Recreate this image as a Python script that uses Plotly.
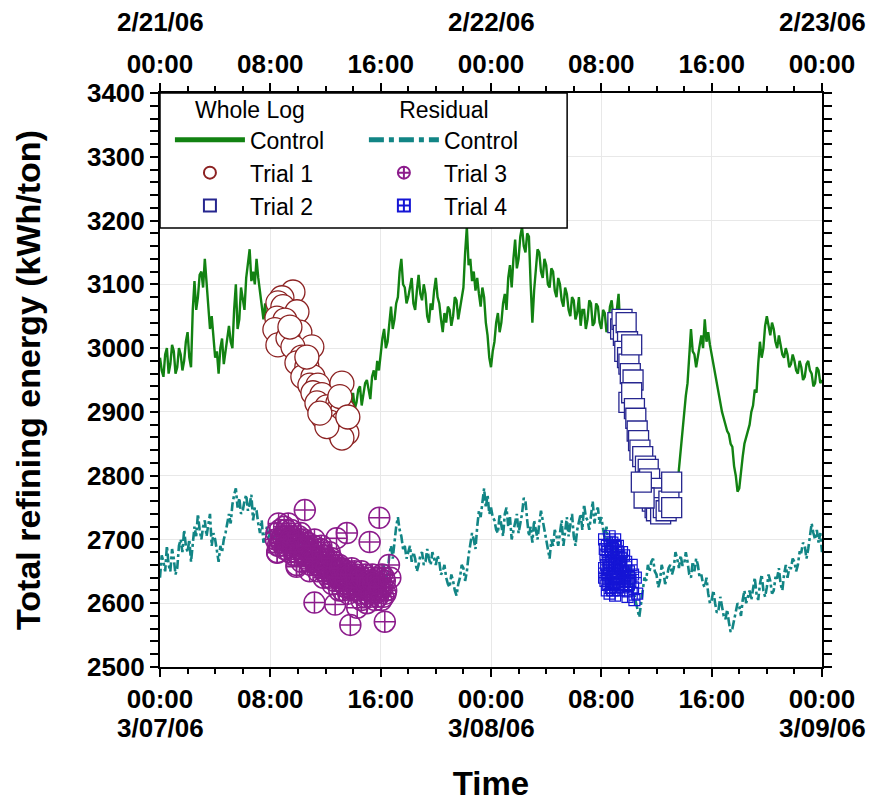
import plotly.graph_objects as go

# ---------------- data ----------------
STEP_H = 0.125  # sampling interval of the control logs (hours)

whole_log_control = [
    2985, 2965, 2955, 2990, 3000, 2960, 2975, 3005,
    2995, 2960, 2970, 3000, 2990, 2965, 2980, 3010,
    3025, 2985, 2970, 3060, 3105, 3060, 3080, 3115,
    3120, 3095, 3140, 3100, 3070, 3030, 3050, 3010,
    2985, 2995, 2960, 3000, 3015, 2975, 2995, 3020,
    3035, 3010, 3000, 3060, 3100, 3030, 3045, 3095,
    3080, 3060, 3110, 3130, 3155, 3105, 3120, 3100,
    3140, 3110, 3085, 3060, 3045, 3070, 3030, 3015,
    3055, 3035, 3010, 3050, 3035, 3010, 3050, 3030,
    3020, 3005, 3040, 3015, 3005, 3030, 3025, 2995,
    2990, 3015, 3000, 2970, 2975, 2990, 2960, 2980,
    2970, 2950, 2945, 2965, 2950, 2930, 2925, 2945,
    2935, 2915, 2905, 2925, 2915, 2895, 2890, 2910,
    2900, 2880, 2875, 2895, 2905, 2880, 2850, 2895,
    2930, 2905, 2915, 2935, 2940, 2910, 2925, 2945,
    2950, 2935, 2920, 2955, 2965, 2950, 2980, 2965,
    2995, 3015, 3030, 3000, 3010, 3045, 3065, 3030,
    3045, 3070, 3080, 3120, 3140, 3100, 3095, 3070,
    3080, 3095, 3110, 3070, 3060, 3090, 3115, 3085,
    3075, 3100, 3085, 3050, 3040, 3070, 3060, 3090,
    3110, 3080, 3070, 3045, 3025, 3055, 3040, 3065,
    3060, 3035, 3050, 3080, 3075, 3045, 3060, 3080,
    3095, 3150, 3190, 3130, 3140, 3105, 3120, 3090,
    3110, 3085, 3065, 3095, 3080, 3040, 3020, 2985,
    2970, 2995, 3010, 3040, 3055, 3025, 3040, 3070,
    3085, 3060, 3110, 3130, 3095, 3140, 3170, 3125,
    3140, 3175, 3190, 3160, 3150, 3180, 3175, 3100,
    3040, 3090, 3120, 3155, 3150, 3120, 3110, 3140,
    3130, 3100, 3095, 3125, 3120, 3090, 3080, 3110,
    3100, 3075, 3065, 3095, 3085, 3060, 3050, 3080,
    3075, 3045, 3055, 3080, 3035, 3060, 3060, 3030,
    3045, 3075, 3070, 3035, 3040, 3070, 3065, 3040,
    3030, 3060, 3055, 3025, 3035, 3065, 3075, 3040,
    3020, 3060, 3085, 3030, 3010, 3000, 2990, 3005,
    3000, 2975, 2960, 2945, 2930, 2910, 2895, 2880,
    2870, 2855, 2840, 2825, 2815, 2805, 2795, 2785,
    2780, 2770, 2765, 2755, 2750, 2758, 2760, 2750,
    2745, 2770, 2790, 2760, 2770, 2810, 2840, 2870,
    2900, 2925, 2945, 2990, 3030, 2995, 2990, 2970,
    2985, 3005, 3020, 3000, 3045, 3010, 3025, 3005,
    2990, 2970, 2955, 2945, 2930, 2915, 2900, 2890,
    2880, 2870, 2865, 2850, 2845, 2815, 2800, 2775,
    2780, 2810, 2830, 2850, 2860, 2870, 2880, 2900,
    2910, 2935, 2930, 2975, 3010, 2985, 3000, 3035,
    3050, 3035, 3020, 3040, 3030, 3010, 3000, 3020,
    3005, 2990, 2985, 3000, 2990, 2970, 2975, 2990,
    2980, 2965, 2960, 2980, 2970, 2950, 2955, 2975,
    2980, 2965, 2960, 2940, 2945, 2970, 2965, 2945,
    2950,
]

residual_control = [
    2640, 2675, 2665, 2650, 2690, 2660, 2650, 2685,
    2670, 2645, 2655, 2690, 2700, 2680, 2715, 2690,
    2680, 2700, 2665, 2700, 2720, 2705, 2740, 2715,
    2700, 2720, 2730, 2705, 2720, 2740, 2690, 2710,
    2700, 2680, 2665, 2690, 2680, 2700, 2710, 2725,
    2740, 2725, 2755, 2770, 2780, 2750, 2765, 2740,
    2745, 2760, 2770, 2745, 2755, 2770, 2730, 2750,
    2745, 2725, 2710, 2730, 2695, 2705, 2720, 2700,
    2715, 2705, 2700, 2715, 2720, 2705, 2695, 2710,
    2710, 2700, 2690, 2700, 2705, 2690, 2685, 2695,
    2700, 2690, 2680, 2695, 2690, 2675, 2670, 2680,
    2685, 2675, 2665, 2680, 2675, 2660, 2655, 2665,
    2670, 2660, 2650, 2665, 2660, 2650, 2645, 2650,
    2655, 2645, 2640, 2650, 2650, 2640, 2635, 2645,
    2645, 2635, 2630, 2640, 2640, 2630, 2625, 2635,
    2640, 2625, 2630, 2640, 2645, 2630, 2625, 2635,
    2640, 2650, 2660, 2640, 2645, 2675, 2690, 2670,
    2700, 2720, 2735, 2715, 2705, 2685, 2690, 2670,
    2680, 2690, 2665, 2680, 2670, 2650, 2660, 2675,
    2680, 2660, 2665, 2685, 2670, 2660, 2680, 2670,
    2660, 2675, 2665, 2645, 2650, 2660, 2640, 2630,
    2625, 2645, 2635, 2620, 2612, 2630, 2640, 2660,
    2655, 2635, 2650, 2675, 2690, 2710, 2700, 2685,
    2720, 2745, 2735, 2760, 2780, 2750, 2770, 2740,
    2750, 2735, 2730, 2715, 2710, 2740, 2725, 2705,
    2740, 2750, 2720, 2735, 2700, 2715, 2725, 2740,
    2710, 2725, 2740, 2765, 2760, 2730, 2705, 2720,
    2695, 2730, 2715, 2700, 2725, 2745, 2730, 2715,
    2700, 2685, 2670, 2700, 2690, 2715, 2705, 2690,
    2715, 2730, 2690, 2710, 2735, 2705, 2720, 2740,
    2705, 2690, 2715, 2730, 2740, 2715, 2755, 2735,
    2730, 2715, 2740, 2760, 2725, 2745, 2750, 2725,
    2735, 2715, 2700, 2720, 2690, 2705, 2675, 2690,
    2665, 2690, 2680, 2660, 2655, 2675, 2670, 2650,
    2645, 2660, 2630, 2615, 2600, 2590, 2578, 2600,
    2620, 2640, 2635, 2660, 2650, 2665, 2670, 2650,
    2645, 2625, 2635, 2660, 2650, 2630, 2640, 2655,
    2660, 2645, 2655, 2680, 2670, 2655, 2675, 2660,
    2660, 2680, 2665, 2645, 2640, 2665, 2650, 2670,
    2660, 2640, 2645, 2630, 2625, 2640, 2615, 2600,
    2605, 2620, 2600, 2585, 2590, 2610, 2595, 2580,
    2575, 2590, 2570, 2555, 2560, 2575, 2585, 2600,
    2595, 2580, 2605, 2620, 2600, 2610, 2620, 2605,
    2625, 2640, 2615, 2605, 2630, 2645, 2620, 2610,
    2625, 2645, 2635, 2615, 2620, 2640, 2640, 2655,
    2630, 2620, 2645, 2660, 2640, 2655, 2655, 2670,
    2665, 2650, 2660, 2680, 2680, 2695, 2690, 2670,
    2685, 2705, 2725, 2710, 2700, 2715, 2695, 2710,
    2680,
]

control_hours = [i * STEP_H for i in range(len(whole_log_control))]

trial1_hours = [9.64, 8.84, 8.55, 8.91, 9.93, 8.48, 9.06, 8.33, 10.14, 8.55,
                9.28, 11.01, 9.64, 10.29, 9.93, 10.65, 10.36, 11.09, 10.87, 11.45,
                13.19, 11.09, 11.74, 11.38, 12.10, 12.90, 11.81, 12.68, 13.26, 12.32,
                13.26, 12.83, 13.55, 13.19, 12.10, 11.59, 13.04, 13.62, 10.65, 9.42]
trial1_values = [3088, 3079, 3071, 3065, 3057, 3047, 3044, 3029, 3025, 3005,
                 3016, 3002, 3002, 2986, 2977, 2971, 2955, 2955, 2942, 2942,
                 2945, 2930, 2927, 2914, 2908, 2914, 2892, 2898, 2903, 2884,
                 2883, 2872, 2867, 2859, 2877, 2898, 2924, 2892, 2986, 3033]

trial2_hours = [33.2, 33.4, 33.5, 33.6, 33.8, 33.9, 33.7, 33.9, 34.0, 34.2,
                34.1, 34.3, 34.0, 34.2, 34.4, 34.5, 34.6, 34.7, 34.8, 35.0,
                35.2, 35.4, 35.3, 35.5, 35.6, 35.7, 35.8, 35.9, 36.0, 36.1,
                36.3, 36.5, 36.7, 36.9, 37.1, 37.1, 35.1, 34.9]
trial2_values = [3040, 3030, 3045, 3020, 3040, 3010, 2995, 2985, 2975, 3005,
                 2960, 2950, 2915, 2930, 2905, 2890, 2870, 2855, 2840, 2830,
                 2815, 2810, 2790, 2795, 2775, 2760, 2780, 2750, 2745, 2765,
                 2740, 2750, 2745, 2760, 2790, 2750, 2765, 2790]

trial3_hours = [8.4, 8.5, 8.7, 8.8, 9.0, 9.1, 9.2, 9.4, 9.5, 9.6, 9.8, 9.9, 10.0,
                10.2, 10.3, 10.4, 10.6, 10.7, 10.8, 11.0, 11.1, 11.2, 11.4, 11.5,
                11.6, 11.8, 11.9, 12.0, 12.2, 12.3, 12.4, 12.6, 12.7, 12.8, 13.0,
                13.1, 13.2, 13.4, 13.5, 13.6, 13.8, 13.9, 14.0, 14.2, 14.3, 14.4,
                14.6, 14.7, 14.8, 15.0, 15.1, 15.2, 15.4, 15.5, 15.6, 15.8, 15.9,
                16.0, 16.2, 16.3,
                8.6, 8.9, 9.3, 9.7, 10.1, 10.5, 10.9, 11.3, 11.7, 12.1, 12.5, 12.9,
                13.3, 13.7, 14.1, 14.5, 14.9, 15.3, 15.7, 16.1, 16.4, 12.5, 13.0,
                14.6, 15.0, 15.6,
                8.45, 8.65, 8.95, 9.15, 9.35, 9.55, 9.75, 9.95, 10.15, 10.35, 10.55,
                10.75, 10.95, 11.15, 11.35, 11.55, 11.75, 11.95, 12.15, 12.35, 12.55,
                12.75, 12.95, 13.15, 13.35, 13.55, 13.75, 13.95, 14.15, 14.35, 14.55,
                14.75, 14.95, 15.15, 15.35, 15.55, 15.75, 15.95, 16.15, 16.35,
                8.55, 8.75, 9.05, 9.25, 9.45, 9.65, 9.85, 10.05, 10.25, 10.45, 10.65,
                10.85, 11.05, 11.25, 11.45, 11.65, 11.85, 12.05, 12.25, 12.45, 12.65,
                12.85, 13.05, 13.25, 13.45, 13.65, 13.85, 14.05, 14.25, 14.45, 14.65,
                14.85, 15.05, 15.25, 15.45, 15.65, 15.85, 16.05, 16.25,
                10.5, 15.9, 13.55, 15.2, 11.2, 12.7, 13.8, 16.3, 14.3, 9.9, 8.5,
                12.8, 16.7, 16.6]
trial3_values = [2700, 2680, 2715, 2695, 2720, 2690, 2705, 2680, 2715, 2695, 2700,
                 2660, 2690, 2710, 2680, 2700, 2675, 2695, 2665, 2685, 2670, 2700,
                 2660, 2680, 2665, 2675, 2650, 2670, 2655, 2680, 2645, 2665, 2650,
                 2640, 2660, 2635, 2655, 2645, 2625, 2650, 2635, 2655, 2630, 2645,
                 2620, 2640, 2650, 2625, 2635, 2615, 2640, 2625, 2645, 2620, 2635,
                 2610, 2640, 2625, 2610, 2635,
                 2725, 2705, 2725, 2685, 2700, 2690, 2680, 2675, 2690, 2660, 2660,
                 2650, 2640, 2640, 2650, 2630, 2645, 2630, 2625, 2645, 2620, 2630,
                 2620, 2605, 2600, 2605,
                 2710, 2690, 2700, 2715, 2695, 2705, 2675, 2695, 2685, 2690, 2670,
                 2685, 2660, 2690, 2665, 2670, 2655, 2660, 2670, 2650, 2655, 2660,
                 2640, 2650, 2630, 2645, 2625, 2640, 2640, 2635, 2615, 2630, 2625,
                 2635, 2615, 2630, 2640, 2620, 2625, 2615,
                 2690, 2700, 2685, 2695, 2700, 2690, 2680, 2705, 2665, 2675, 2690,
                 2650, 2670, 2665, 2650, 2685, 2640, 2655, 2640, 2670, 2635, 2640,
                 2655, 2620, 2640, 2615, 2645, 2620, 2635, 2625, 2640, 2610, 2635,
                 2610, 2630, 2615, 2625, 2605, 2640,
                 2746, 2734, 2710, 2696, 2601, 2598, 2566, 2571, 2593, 2657, 2679,
                 2702, 2640, 2660]

trial4_hours = [32.2, 32.4, 32.6, 32.8, 33.0, 33.2, 32.3, 32.5, 32.7, 32.9, 33.1,
                33.3, 33.5, 32.2, 32.4, 32.6, 32.8, 33.0, 33.2, 33.4, 33.6, 33.8,
                32.3, 32.5, 32.7, 32.9, 33.1, 33.3, 33.5, 33.7, 34.0, 34.2, 34.1,
                34.3, 33.9, 34.5, 34.6, 32.6, 32.8, 33.0, 34.4,
                32.25, 32.45, 32.65, 32.85, 33.05, 33.25, 33.45, 33.65, 32.35, 32.55,
                32.75, 32.95, 33.15, 33.35, 33.55, 33.75, 32.2, 32.5, 32.8, 33.1,
                33.4, 33.7, 34.0, 34.3, 32.4, 32.7, 33.0, 33.3, 33.6, 33.9]
trial4_values = [2700, 2690, 2705, 2695, 2700, 2690, 2675, 2665, 2680, 2670, 2675,
                 2665, 2680, 2655, 2645, 2660, 2650, 2655, 2645, 2660, 2650, 2665,
                 2635, 2630, 2640, 2632, 2638, 2630, 2640, 2635, 2650, 2660, 2635,
                 2625, 2620, 2640, 2615, 2615, 2620, 2612, 2605,
                 2685, 2680, 2690, 2685, 2688, 2680, 2670, 2675, 2660, 2655,
                 2665, 2660, 2662, 2655, 2650, 2645, 2640, 2645, 2638, 2642,
                 2640, 2640, 2630, 2645, 2620, 2625, 2625, 2620, 2625, 2610]

tick_hours = [0, 8, 16, 24, 32, 40, 48]
tick_labels = ["00:00", "08:00", "16:00", "00:00", "08:00", "16:00", "00:00"]
top_dates = ["2/21/06", "2/22/06", "2/23/06"]
bottom_dates = ["3/07/06", "3/08/06", "3/09/06"]
date_hours = [0, 24, 48]

# ---------------- style ----------------
FONT = "Liberation Sans, Arial, Helvetica, sans-serif"
GREEN = "#128212"
TEAL = "#128585"
RED = "#8c2222"
PURPLE = "#8c1c8c"
NAVY = "#26268f"
BLUE = "#1515d5"

fig = go.Figure()

# control logs: base axis (drawn first, underneath)
fig.add_trace(go.Scatter(x=control_hours, y=whole_log_control, xaxis="x", mode="lines",
                         line=dict(color=GREEN, width=2.4), name="Control", legend="legend"))
fig.add_trace(go.Scatter(x=control_hours, y=residual_control, xaxis="x", mode="lines",
                         line=dict(color=TEAL, width=2.6, dash="dashdot"), name="Control",
                         legend="legend2"))
# trials: overlay axis (drawn on top)
fig.add_trace(go.Scatter(x=trial1_hours, y=trial1_values, xaxis="x2", mode="markers",
                         name="Trial 1",
                         marker=dict(symbol="circle", size=24, color="white",
                                     line=dict(width=1.3, color=RED)),
                         legend="legend"))
fig.add_trace(go.Scatter(x=trial2_hours, y=trial2_values, xaxis="x2", mode="markers",
                         name="Trial 2",
                         marker=dict(symbol="square", size=20, color="white",
                                     line=dict(width=1.3, color=NAVY)),
                         legend="legend"))
fig.add_trace(go.Scatter(x=trial3_hours, y=trial3_values, xaxis="x2", mode="markers",
                         name="Trial 3",
                         marker=dict(symbol="circle-cross-open", size=21, color=PURPLE,
                                     line=dict(width=1.5)),
                         legend="legend2"))
fig.add_trace(go.Scatter(x=trial4_hours, y=trial4_values, xaxis="x2", mode="markers",
                         name="Trial 4",
                         marker=dict(symbol="square-cross-open", size=11, color=BLUE,
                                     line=dict(width=1.2)),
                         legend="legend2"))

tickfont = dict(family=FONT, size=26, color="black", weight="bold")
xcommon = dict(range=[0, 48], tickvals=tick_hours, ticktext=tick_labels, showgrid=True,
               gridcolor="#e8e8e8", gridwidth=1, showline=True, linecolor="black", linewidth=2,
               ticks="outside", ticklen=8, tickwidth=2, tickcolor="black", tickfont=tickfont,
               minor=dict(dtick=2, ticks="outside", ticklen=5, tickwidth=1.5, tickcolor="black",
                          showgrid=False),
               zeroline=False, fixedrange=True, automargin=False)

fig.update_layout(
    width=862, height=794,
    margin=dict(l=152, r=48, t=85, b=135),
    paper_bgcolor="white", plot_bgcolor="white",
    font=dict(family=FONT, color="black"),
    xaxis=dict(**xcommon, side="bottom",
               title=dict(text="Time", font=dict(family=FONT, size=33, weight="bold"),
                          standoff=64)),
    xaxis2=dict(**xcommon, side="top", overlaying="x", anchor="y"),
    yaxis=dict(range=[2500, 3400], dtick=100, showgrid=True, gridcolor="#e8e8e8",
               showline=True, linecolor="black", linewidth=2, mirror="allticks",
               ticks="outside", ticklen=8, tickwidth=2, tickcolor="black", tickfont=tickfont,
               minor=dict(dtick=20, ticks="outside", ticklen=5, tickwidth=1.5,
                          tickcolor="black", showgrid=False),
               zeroline=False, fixedrange=True, automargin=False,
               title=dict(text="Total refining energy (kWh/ton)",
                          font=dict(family=FONT, size=34, weight="bold"), standoff=36)),
    legend=dict(x=0.015, y=1.008, xanchor="left", yanchor="top", bgcolor="rgba(0,0,0,0)",
                borderwidth=0, font=dict(family=FONT, size=23, color="black"),
                itemsizing="constant", itemwidth=70, tracegroupgap=0,
                title=dict(text="Whole Log", side="top center",
                           font=dict(family=FONT, size=23, color="black"))),
    legend2=dict(x=0.308, y=1.008, xanchor="left", yanchor="top", bgcolor="rgba(0,0,0,0)",
                 borderwidth=0, font=dict(family=FONT, size=23, color="black"),
                 itemsizing="constant", itemwidth=70, tracegroupgap=0,
                 title=dict(text="Residual", side="top center",
                            font=dict(family=FONT, size=23, color="black"))),
    shapes=[dict(type="rect", xref="paper", yref="paper", x0=0, x1=0.615, y0=0.765, y1=1.0,
                 fillcolor="white", line=dict(color="black", width=1.5), layer="above")],
)

for h, d in zip(date_hours, top_dates):
    fig.add_annotation(x=h, y=1.124, xref="x", yref="paper", text=d, showarrow=False,
                       font=tickfont, xanchor="center", yanchor="middle")
for h, d in zip(date_hours, bottom_dates):
    fig.add_annotation(x=h, y=-0.106, xref="x", yref="paper", text=d, showarrow=False,
                       font=tickfont, xanchor="center", yanchor="middle")

fig.write_html("out.html")
